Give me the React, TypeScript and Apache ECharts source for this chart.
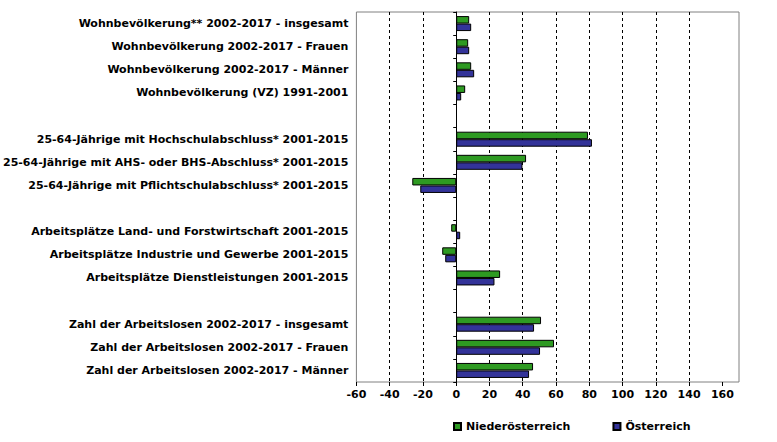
import React, { useEffect, useRef } from "react";
import * as echarts from "echarts";

const categories = [
  "Wohnbevölkerung** 2002-2017 - insgesamt",
  "Wohnbevölkerung 2002-2017 - Frauen",
  "Wohnbevölkerung 2002-2017 - Männer",
  "Wohnbevölkerung (VZ) 1991-2001",
  " ",
  "25-64-Jährige mit Hochschulabschluss* 2001-2015",
  "25-64-Jährige mit AHS- oder BHS-Abschluss* 2001-2015",
  "25-64-Jährige mit Pflichtschulabschluss* 2001-2015",
  "  ",
  "Arbeitsplätze Land- und Forstwirtschaft 2001-2015",
  "Arbeitsplätze Industrie und Gewerbe 2001-2015",
  "Arbeitsplätze Dienstleistungen 2001-2015",
  "   ",
  "Zahl der Arbeitslosen 2002-2017 - insgesamt",
  "Zahl der Arbeitslosen 2002-2017 - Frauen",
  "Zahl der Arbeitslosen 2002-2017 - Männer",
];

const niederoesterreich = [7.8, 7.2, 9.0, 5.4, null, 79.2, 42.0, -26.4, null, -3.0, -8.4, 26.4, null, 51.0, 58.8, 46.2];
const oesterreich = [9.0, 7.8, 10.8, 3.0, null, 81.6, 39.8, -21.6, null, 2.4, -6.6, 23.0, null, 46.8, 50.4, 43.8];

const xTicks = [-60, -40, -20, 0, 20, 40, 60, 80, 100, 120, 140, 160];

const FONT = "DejaVu Sans";

export default function App() {
  const ref = useRef<HTMLDivElement>(null);
  useEffect(() => {
    if (!ref.current) return;
    const chart = echarts.init(ref.current, null, { renderer: "svg" });
    chart.setOption({
      animation: false,
      backgroundColor: "#ffffff",
      grid: {
        left: 355,
        right: 38,
        top: 12,
        bottom: 60,
        show: true,
        borderColor: "#808080",
        borderWidth: 1,
        backgroundColor: "transparent",
      },
      legend: {
        left: 448,
        top: 416,
        itemWidth: 7,
        itemHeight: 7,
        itemGap: 42,
        icon: "rect",
        textStyle: { fontFamily: FONT, fontWeight: "bold", fontSize: 11, color: "#000" },
        data: ["Niederösterreich", "Österreich"],
      },
      xAxis: {
        type: "value",
        min: -60,
        max: 170,
        interval: 20,
        position: "bottom",
        axisLine: { onZero: false, lineStyle: { color: "#000", width: 1 } },
        axisTick: { show: true, length: 4, lineStyle: { color: "#000" }, customValues: xTicks },
        axisLabel: {
          customValues: xTicks,
          margin: 7,
          fontFamily: FONT,
          fontWeight: "bold",
          fontSize: 11,
          color: "#000",
        },
        splitLine: {
          show: true,
          showMinLine: false,
          showMaxLine: false,
          lineStyle: { color: "#000", type: [3, 3], width: 1 },
        },
      },
      yAxis: [
        {
          type: "category",
          data: categories,
          inverse: true,
          position: "right",
          axisLine: { show: true, onZero: true, lineStyle: { color: "#000", width: 1 } },
          axisTick: { show: true, inside: true, length: 3, lineStyle: { color: "#000" } },
          axisLabel: { show: false },
          splitLine: { show: false },
        },
        {
          type: "category",
          data: categories,
          inverse: true,
          position: "left",
          axisLine: { show: false, onZero: false },
          axisTick: { show: false },
          axisLabel: {
            show: true,
            margin: 8,
            padding: [3, 0, 0, 0],
            fontFamily: FONT,
            fontWeight: "bold",
            fontSize: 11,
            color: "#000",
          },
          splitLine: { show: false },
        },
      ],
      series: [
        {
          name: "Niederösterreich",
          type: "bar",
          yAxisIndex: 0,
          data: niederoesterreich,
          barWidth: 7.5,
          barGap: "0%",
          itemStyle: { color: "#2e9a22", borderColor: "#000", borderWidth: 1 },
        },
        {
          name: "Österreich",
          type: "bar",
          yAxisIndex: 0,
          data: oesterreich,
          barWidth: 7.5,
          barGap: "0%",
          itemStyle: { color: "#333399", borderColor: "#000", borderWidth: 1 },
        },
      ],
    });
    return () => chart.dispose();
  }, []);
  return (
    <div
      ref={ref}
      style={{ position: "fixed", left: 0, top: 0, width: 777, height: 442, background: "#fff" }}
    />
  );
}
